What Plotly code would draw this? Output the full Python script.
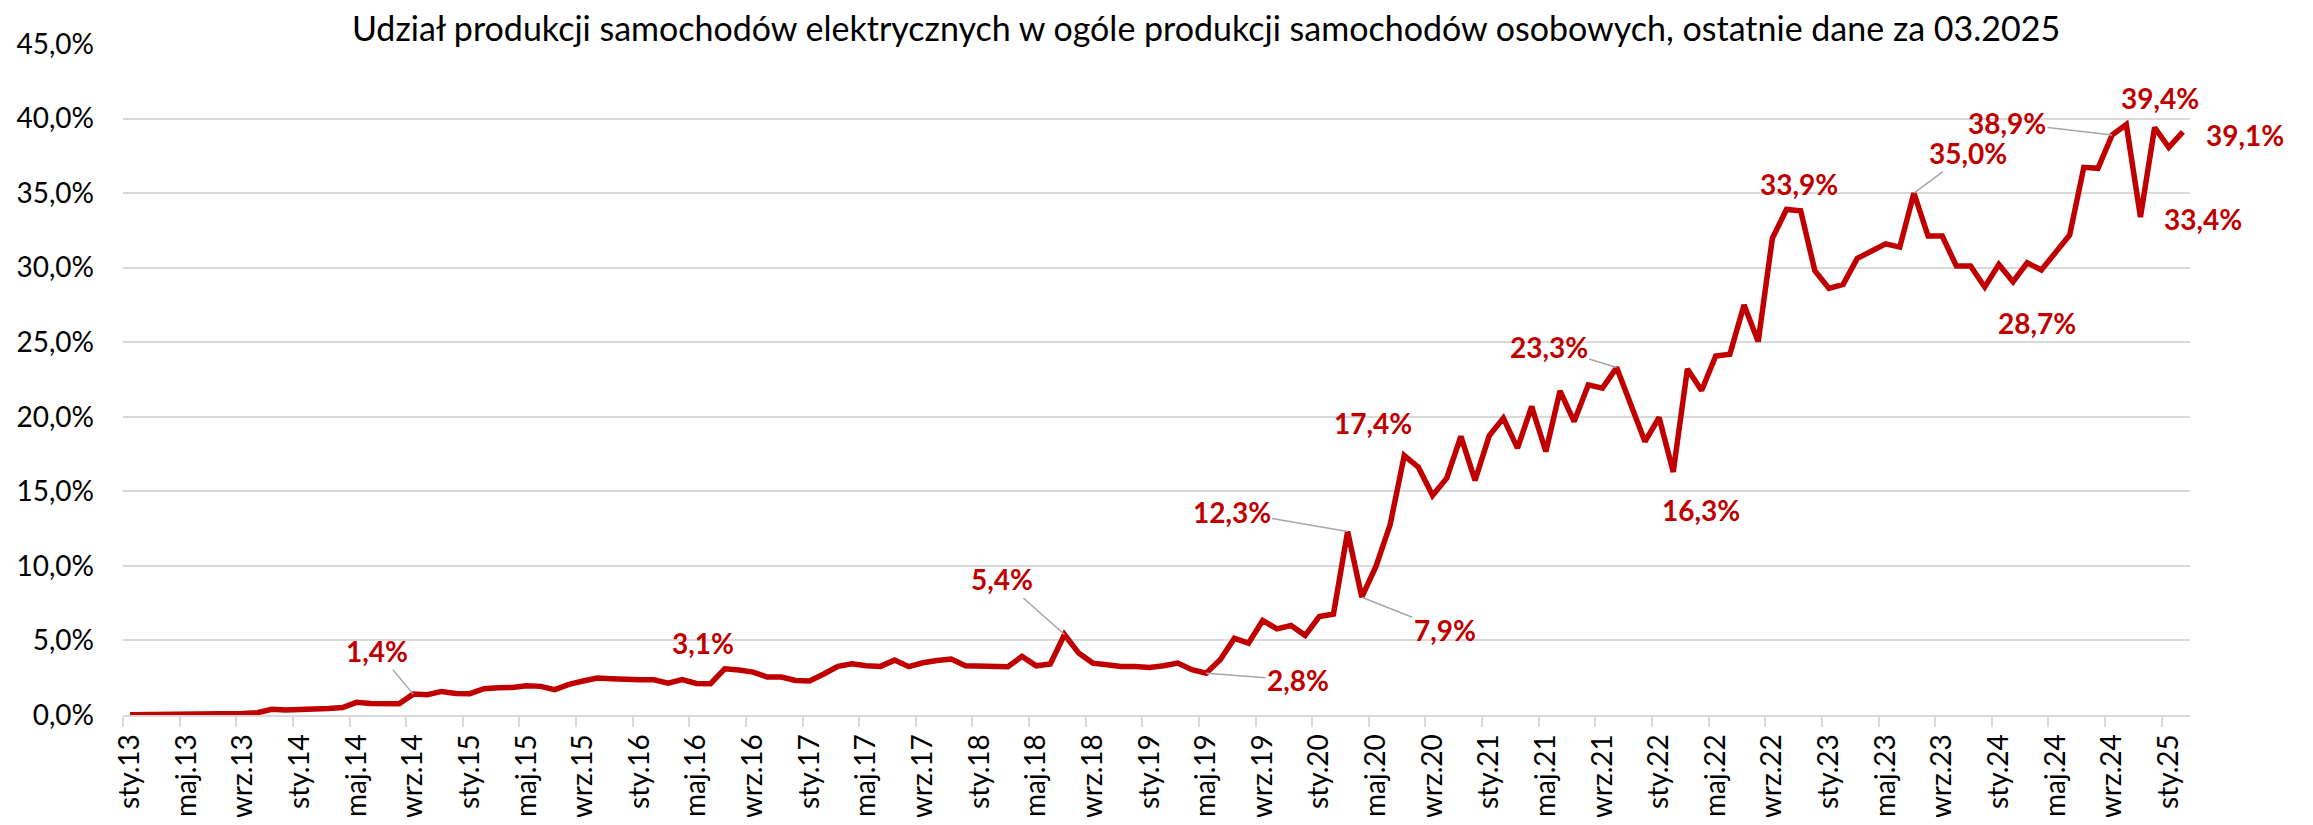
import plotly.graph_objects as go

# Share of EV production in total passenger-car production, monthly, from sty.13
share_pct = [
    0.02, 0.02, 0.02, 0.03, 0.04, 0.06, 0.05, 0.07, 0.10, 0.15,
    0.38, 0.33, 0.34, 0.40, 0.44, 0.50, 0.85, 0.77, 0.76, 0.75,
    1.40, 1.36, 1.58, 1.45, 1.43, 1.76, 1.83, 1.84, 1.96, 1.92,
    1.70, 2.05, 2.28, 2.48, 2.43, 2.37, 2.37, 2.36, 2.14, 2.37,
    2.12, 2.10, 3.10, 3.02, 2.88, 2.55, 2.55, 2.32, 2.28, 2.75,
    3.26, 3.44, 3.30, 3.26, 3.68, 3.24, 3.50, 3.66, 3.75, 3.30,
    3.30, 3.22, 3.24, 3.93, 3.30, 3.42, 5.40, 4.15, 3.48, 3.37,
    3.26, 3.26, 3.19, 3.30, 3.48, 3.04, 2.80, 3.71, 5.14, 4.82,
    6.34, 5.78, 6.00, 5.34, 6.60, 6.77, 12.30, 7.90, 9.96, 12.75,
    17.40, 16.62, 14.72, 15.88, 18.68, 15.73, 18.72, 19.91, 17.90, 20.69,
    17.67, 21.74, 19.68, 22.14, 21.92, 23.30, 20.69, 18.34, 19.95, 16.30,
    23.21, 21.76, 24.08, 24.19, 27.50, 25.04, 31.97, 33.90, 33.82, 29.80,
    28.61, 28.88, 30.62, 31.07, 31.60, 31.38, 35.00, 32.12, 32.12, 30.11,
    30.11, 28.70, 30.22, 29.06, 30.33, 29.84, 31.00, 32.19, 36.73, 36.66,
    38.90, 39.60, 33.40, 39.40, 38.07, 39.10,
]

tick_labels = [
    "sty.13", "maj.13", "wrz.13", "sty.14", "maj.14", "wrz.14",
    "sty.15", "maj.15", "wrz.15", "sty.16", "maj.16", "wrz.16",
    "sty.17", "maj.17", "wrz.17", "sty.18", "maj.18", "wrz.18",
    "sty.19", "maj.19", "wrz.19", "sty.20", "maj.20", "wrz.20",
    "sty.21", "maj.21", "wrz.21", "sty.22", "maj.22", "wrz.22",
    "sty.23", "maj.23", "wrz.23", "sty.24", "maj.24", "wrz.24",
    "sty.25",
]

y_ticks = [0, 5, 10, 15, 20, 25, 30, 35, 40, 45]

# labelled points: index, label offset in px (dx, dy), leader line?
labelled_idx = [20, 42, 66, 76, 86, 87, 90, 105, 109, 117, 126, 131, 140, 143, 142, 145]
label_dx = [-36, -22, -62, 92, -116, 83, -31, -68, 28, 12, 54, 52, -105, 5, 63, 62]
label_dy = [-43, -26, -55, 7, -20, 33, -33, -21, 38, -26, -40, 36, -12, -30, 2, 3]
label_leader = [True, False, True, True, True, True, False, True, False, False, True, False, True, False, False, False]

RED = "#C00000"
GRID = "#D9D9D9"
FONT = "Lato"

x_idx = list(range(len(share_pct)))

fig = go.Figure()
fig.add_trace(go.Scatter(
    x=x_idx, y=share_pct, mode="lines",
    line=dict(color=RED, width=5.5), hoverinfo="skip",
))


def fmt(v):
    return f"{v:.1f}".replace(".", ",") + "%"


for k, dx, dy, lead in zip(labelled_idx, label_dx, label_dy, label_leader):
    v = share_pct[k]
    common = dict(
        x=k, y=v, xref="x", yref="y", text=fmt(v),
        font=dict(family=FONT, size=28, color=RED, weight="bold"),
    )
    if lead:
        fig.add_annotation(**common, showarrow=True, ax=dx, ay=dy,
                           arrowhead=0, arrowwidth=1.5, arrowcolor="#A6A6A6",
                           standoff=0)
    else:
        fig.add_annotation(**common, showarrow=False, xshift=dx, yshift=-dy)

# page body has an 8px margin, so the figure is sized to fit the 2313x825 window
fig.update_layout(
    width=2297, height=809, autosize=False,
    margin=dict(l=115, r=115, t=36, b=102, pad=0, autoexpand=False),
    paper_bgcolor="white", plot_bgcolor="white",
    showlegend=False,
    title=dict(
        text="Udział produkcji samochodów elektrycznych w ogóle produkcji samochodów osobowych, ostatnie dane za 03.2025",
        x=0.524, xref="paper", xanchor="center",
        y=0.974, yref="container", yanchor="middle",
        font=dict(family=FONT, size=34, color="#000000"),
        automargin=False,
    ),
    font=dict(family=FONT, color="#000000"),
)

fig.update_xaxes(
    automargin=False,
    range=[-0.5, len(share_pct) - 0.5],
    tickmode="array",
    tickvals=[4 * i for i in range(len(tick_labels))],
    ticktext=tick_labels,
    tickangle=-90,
    ticks="",
    ticklabelstandoff=6,
    tickfont=dict(family=FONT, size=28, color="#000000"),
    showgrid=False, zeroline=False,
    showline=True, linecolor=GRID, linewidth=2,
    minor=dict(
        tickmode="array",
        tickvals=[4 * i - 0.5 for i in range(len(tick_labels))],
        ticks="outside", ticklen=10, tickwidth=2, tickcolor=GRID,
        showgrid=False,
    ),
)

fig.update_yaxes(
    automargin=False,
    range=[0, 45],
    tickmode="array",
    tickvals=y_ticks,
    ticktext=[fmt(v) for v in y_ticks],
    tickfont=dict(family=FONT, size=28, color="#000000"),
    ticklabelstandoff=28,
    showgrid=True, gridcolor=GRID, gridwidth=2,
    zeroline=False, showline=False, ticks="",
)

fig.write_html("out.html")
